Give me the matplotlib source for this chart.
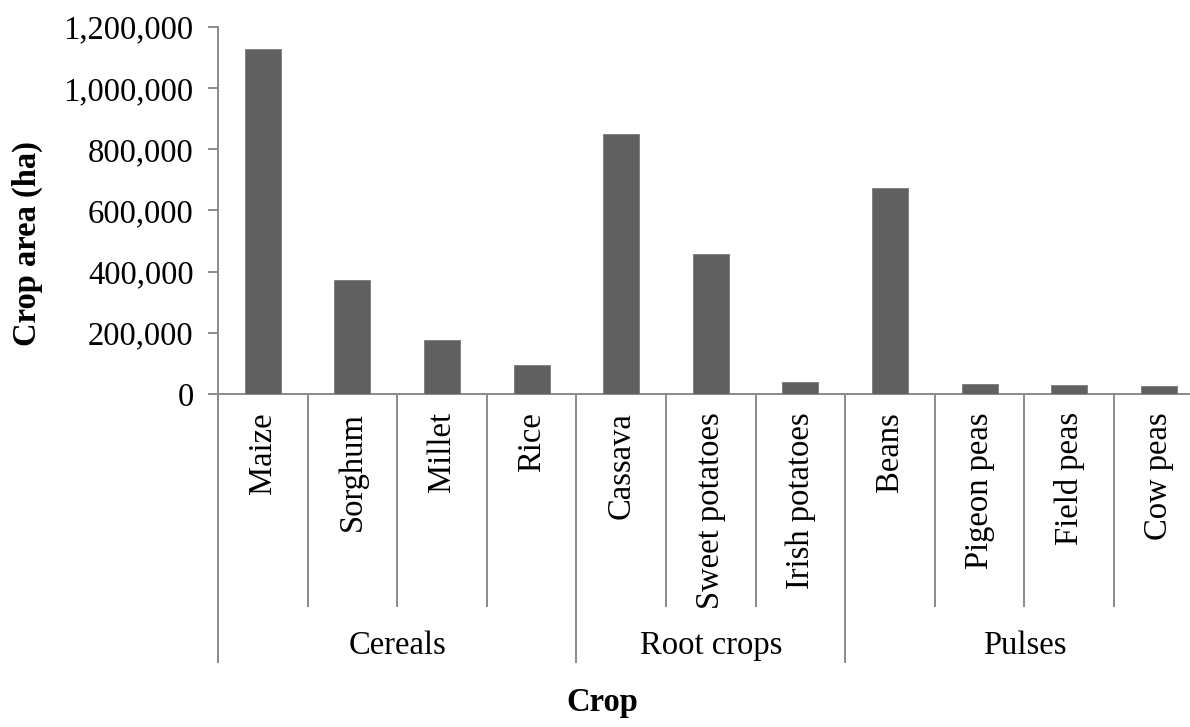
import matplotlib
matplotlib.use("Agg")
import matplotlib.pyplot as plt
from matplotlib.ticker import FuncFormatter, MultipleLocator

# Crop area by crop, grouped by crop type
crops = ["Maize", "Sorghum", "Millet", "Rice",
         "Cassava", "Sweet potatoes", "Irish potatoes",
         "Beans", "Pigeon peas", "Field peas", "Cow peas"]
area_ha = [1128000, 373000, 176000, 95000,
           851000, 457000, 40000,
           674000, 34000, 29000, 25000]
groups = ["Cereals", "Root crops", "Pulses"]
group_sizes = [4, 3, 4]

plt.rcParams["font.family"] = ["Liberation Serif", "DejaVu Serif"]
AXIS_GREY = "#8a8a8a"
BAR_GREY = "#606060"
FS = 23.5

fig = plt.figure(figsize=(11.9, 7.27), dpi=100)
ax_h_px = 394 - 27
ax = fig.add_axes([218 / 1190, 1 - 394 / 727, (1203.6 - 218) / 1190, ax_h_px / 727])

x = list(range(len(crops)))
ax.bar(x, area_ha, width=0.4, color=BAR_GREY, edgecolor="#7a7a7a", linewidth=0.6, zorder=3)

ax.set_xlim(-0.5, len(crops) - 0.5)
ax.set_ylim(0, 1200000)
ax.yaxis.set_major_locator(MultipleLocator(200000))
ax.yaxis.set_major_formatter(FuncFormatter(lambda v, p: f"{v:,.0f}"))

for side in ("top", "right"):
    ax.spines[side].set_visible(False)
for side in ("left", "bottom"):
    ax.spines[side].set_color(AXIS_GREY)
    ax.spines[side].set_linewidth(1.4)

ax.tick_params(axis="y", direction="out", length=7.5, width=1.4, color=AXIS_GREY,
               labelsize=FS, pad=10)
ax.set_xticks(x)
ax.set_xticklabels(crops, rotation=90, fontsize=FS)
ax.tick_params(axis="x", length=0, pad=13)

# Multi-level category dividers below the axis
trans = ax.get_xaxis_transform()
cat_bottom = -(607 - 394) / ax_h_px
grp_bottom = -(663 - 394) / ax_h_px
grp_label_y = -(646 - 394) / ax_h_px

boundaries = []
start = 0
for size in group_sizes:
    boundaries.append(start - 0.5)
    start += size
boundaries.append(start - 0.5)

for b in [i - 0.5 for i in range(len(crops) + 1)]:
    if b in boundaries:
        continue
    ax.plot([b, b], [0, cat_bottom], transform=trans, color=AXIS_GREY,
            lw=1.4, clip_on=False, solid_capstyle="butt")
for b in boundaries:
    ax.plot([b, b], [0, grp_bottom], transform=trans, color=AXIS_GREY,
            lw=1.4, clip_on=False, solid_capstyle="butt")

start = 0
for name, size in zip(groups, group_sizes):
    centre = start - 0.5 + size / 2
    ax.text(centre, grp_label_y, name, transform=trans, ha="center", va="center",
            fontsize=FS)
    start += size

fig.text(27 / 1190, 1 - 244 / 727, "Crop area (ha)", rotation=90, ha="center",
         va="center", fontsize=FS, fontweight="bold")
fig.text(602 / 1190, 1 - 703 / 727, "Crop", ha="center", va="center",
         fontsize=FS, fontweight="bold")

fig.savefig("out.png", dpi=100)
